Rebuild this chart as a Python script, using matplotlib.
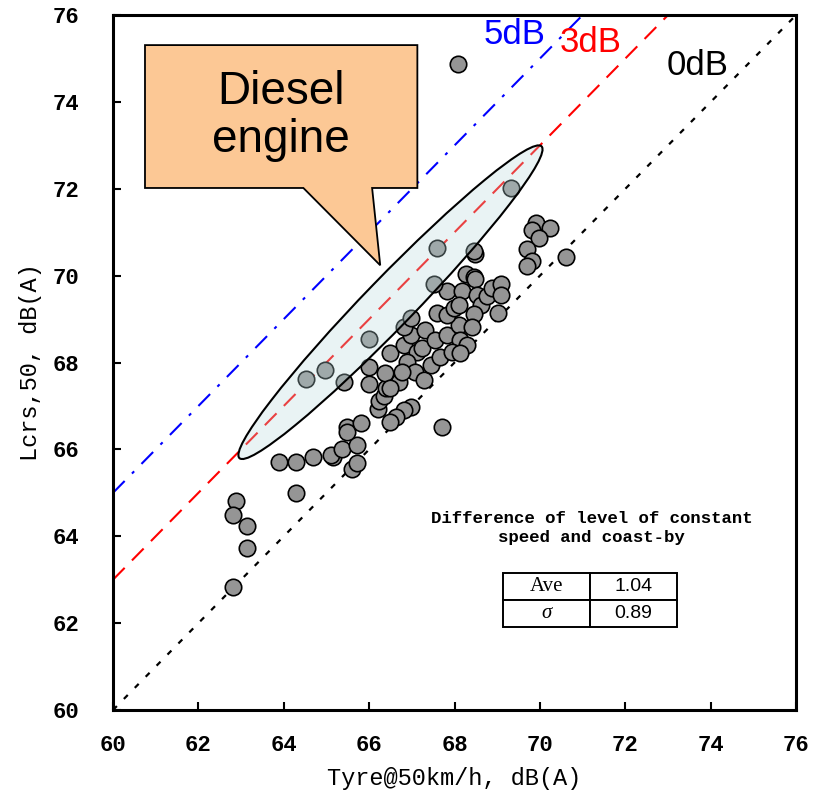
import matplotlib
matplotlib.use("Agg")
import matplotlib.pyplot as plt
from matplotlib.patches import Ellipse, Polygon

# Measured pass-by levels: tyre noise at 50 km/h vs constant-speed level
tyre_db = [
    62.89, 62.81, 63.15, 63.15, 62.80, 64.28, 63.90, 64.29, 64.69, 65.15,
    65.10, 65.37, 65.72, 65.60, 65.72, 65.48, 65.48, 65.81, 66.20, 66.22,
    66.34, 66.40, 65.99, 66.69, 65.99, 66.38, 66.50, 66.81, 66.97, 67.30,
    67.12, 67.24, 67.55, 67.83, 68.10, 68.12, 68.30, 66.89, 67.08, 67.28,
    67.44, 67.67, 67.95, 68.12, 66.77, 66.50, 66.97, 66.81, 66.62, 66.50,
    67.71, 66.81, 66.97, 68.49, 68.45, 68.26, 68.45, 68.49, 67.83, 68.18,
    68.53, 68.61, 68.77, 68.88, 69.09, 69.10, 69.02, 67.59, 67.83, 67.98,
    68.10, 68.45, 68.41, 69.92, 70.23, 69.82, 69.98, 69.70, 69.82, 69.70,
    70.60, 68.09,
    # diesel-engine vehicles
    69.33, 67.59, 67.51, 65.99, 64.96, 64.51, 65.40,
]
lcrs_db = [
    64.82, 64.50, 64.24, 63.74, 62.84, 65.00, 65.71, 65.71, 65.83, 65.83,
    65.87, 66.00, 66.10, 65.56, 65.68, 66.52, 66.41, 66.61, 66.93, 67.12,
    67.23, 67.42, 67.50, 67.56, 67.90, 67.75, 68.23, 68.40, 68.63, 68.75,
    68.25, 68.33, 68.52, 68.63, 68.87, 68.52, 68.40, 68.02, 67.79, 67.60,
    67.94, 68.13, 68.25, 68.21, 67.79, 67.41, 66.98, 66.91, 66.75, 66.64,
    66.52, 68.83, 69.02, 70.51, 70.56, 70.05, 69.96, 69.92, 69.65, 69.65,
    69.55, 69.32, 69.53, 69.72, 69.82, 69.55, 69.15, 69.15, 69.09, 69.25,
    69.32, 69.13, 68.81, 71.22, 71.11, 71.05, 70.86, 70.61, 70.33, 70.23,
    70.42, 74.87,
    72.03, 70.63, 69.82, 68.54, 67.82, 67.63, 67.55,
]

# Reference lines: constant-speed level exceeds tyre level by this much
offsets_db = [0, 3, 5]
offset_labels = ["0dB", "3dB", "5dB"]
offset_colors = ["black", "red", "blue"]

axis_ticks = [60, 62, 64, 66, 68, 70, 72, 74, 76]

stat_names = ["Ave", "σ"]
stat_values = ["1.04", "0.89"]

mono = "Liberation Mono"
sans = "Liberation Sans"
serif = "Liberation Serif"

fig = plt.figure(figsize=(8.21, 7.96), dpi=100)
ax = fig.add_axes([0.1376, 0.108, 0.832, 0.873])
ax.set_xlim(60, 76)
ax.set_ylim(60, 76)

line_styles = {
    0: dict(dashes=(2.5, 4.5), lw=1.6),
    3: dict(dashes=(8, 5), lw=1.5),
    5: dict(dashes=(8, 5, 1.5, 5), lw=1.5),
}
xs = [60, 76]
for off, col in zip(offsets_db, offset_colors):
    ax.plot(xs, [v + off for v in xs], color=col, zorder=1,
            **line_styles[off])

ax.scatter(tyre_db, lcrs_db, s=140, color="#959595", edgecolor="black",
           linewidth=1.2, zorder=3)

# Highlight of the diesel-engine group
ell = Ellipse((66.50, 69.39), width=10.08, height=1.14, angle=45.4,
              facecolor=(185 / 255, 218 / 255, 220 / 255, 0.3),
              edgecolor="black", linewidth=1.5, zorder=4)
ax.add_patch(ell)

# Callout box with pointer
callout = Polygon([(60.75, 75.31), (67.13, 75.31), (67.13, 72.02),
                   (66.07, 72.02), (66.26, 70.24), (64.46, 72.02),
                   (60.75, 72.02)],
                  closed=True, facecolor="#FCC895", edgecolor="black",
                  linewidth=1.3, zorder=5)
ax.add_patch(callout)
ax.text(63.94, 73.68, "Diesel\nengine", family=sans, fontsize=33,
        ha="center", va="center", linespacing=1.1, zorder=6)

label_pos = {"5dB": (69.41, 75.56), "3dB": (71.19, 75.36), "0dB": (73.70, 74.83)}
for lab, col in zip(offset_labels, offset_colors):
    x, y = label_pos[lab]
    ax.text(x, y, lab, color=col, family=sans, fontsize=25,
            ha="center", va="center", zorder=6)

ax.text(71.21, 64.19, "Difference of level of constant\nspeed and coast-by",
        family=mono, fontsize=12.5, fontweight="bold", ha="center",
        va="center", linespacing=1.3, zorder=6)

tbl = ax.table(cellText=[[n, v] for n, v in zip(stat_names, stat_values)],
               bbox=[0.571, 0.1194, 0.255, 0.0777], cellLoc="center")
tbl.auto_set_font_size(False)
for (r, c), cell in tbl.get_celld().items():
    cell.set_linewidth(1.4)
    cell.set_edgecolor("black")
    txt = cell.get_text()
    if c == 0:
        txt.set_fontfamily(serif)
        txt.set_fontsize(15)
        if r == 1:
            txt.set_fontstyle("italic")
    else:
        txt.set_fontfamily(sans)
        txt.set_fontsize(14)
tbl.set_zorder(6)

ax.set_xticks(axis_ticks)
ax.set_yticks(axis_ticks)
ax.tick_params(direction="in", length=6, width=1.5)
ax.tick_params(axis="x", pad=18)
ax.tick_params(axis="y", pad=24)
for lab in ax.get_xticklabels() + ax.get_yticklabels():
    lab.set_fontfamily(mono)
    lab.set_fontsize(16)
    lab.set_fontweight("bold")
for sp in ax.spines.values():
    sp.set_linewidth(2.2)

ax.set_xlabel("Tyre@50km/h, dB(A)", family=mono, fontsize=17, labelpad=8)
ax.set_ylabel("Lcrs,50, dB(A)", family=mono, fontsize=17, labelpad=8)

fig.savefig("out.png", dpi=100)
